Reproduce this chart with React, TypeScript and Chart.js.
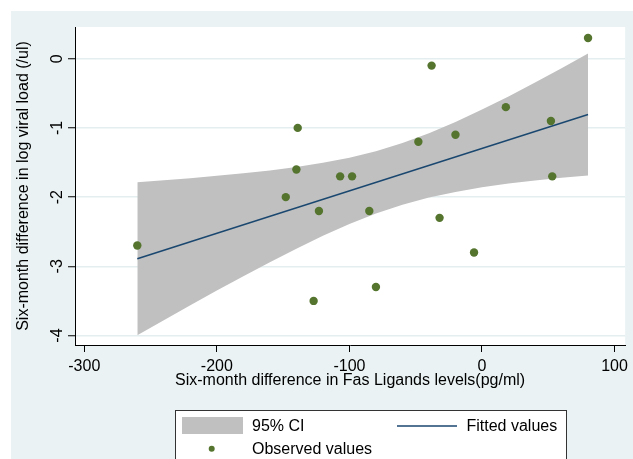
import { useEffect, useRef } from 'react';
import { Chart, registerables } from 'chart.js';

Chart.register(...registerables);

// ---- data ----
const obsX = [-260, -148, -140, -139, -127, -123, -107, -98, -85, -80, -48, -38, -32, -20, -6, 18, 52, 53, 80];
const obsY = [-2.7, -2.0, -1.6, -1.0, -3.5, -2.2, -1.7, -1.7, -2.2, -3.3, -1.2, -0.1, -2.3, -1.1, -2.8, -0.7, -0.9, -1.7, 0.3];
const fitX = [-260, 80];
const fitY = [-2.89, -0.806];
const ciX = [-260, -240, -220, -200, -180, -160, -140, -120, -100, -80, -60, -40, -20, 0, 20, 40, 60, 80];
const ciUpper = [-1.785, -1.756, -1.727, -1.693, -1.657, -1.614, -1.565, -1.505, -1.43, -1.336, -1.219, -1.077, -0.915, -0.735, -0.545, -0.343, -0.139, 0.074];
const ciLower = [-3.995, -3.778, -3.563, -3.351, -3.143, -2.94, -2.745, -2.559, -2.39, -2.238, -2.111, -2.007, -1.925, -1.857, -1.805, -1.759, -1.721, -1.686];
const xTicks = [-300, -200, -100, 0, 100];
const yTicks = [0, -1, -2, -3, -4];
const xTickLabels = ['-300', '-200', '-100', '0', '100'];
const yTickLabels = ['0', '-1', '-2', '-3', '-4'];
const seriesLabels = ['95% CI', 'Fitted values', 'Observed values'];
const xTitle = 'Six-month difference in Fas Ligands levels(pg/ml)';
const yTitle = 'Six-month difference in log viral load (/ul)';

// ---- styles ----
const FONT = '"Liberation Sans", Arial, Helvetica, sans-serif';
const BG = '#EAF2F3';
const GRID = '#E4EEF0';
const CI_COLOR = '#C0C0C0';
const LINE_COLOR = '#1A476F';
const DOT_COLOR = '#55752F';

const decorPlugin = {
  id: 'decor',
  beforeDraw(chart: any) {
    const { ctx, chartArea: a, width, height } = chart;
    ctx.save();
    ctx.fillStyle = '#ffffff';
    ctx.fillRect(0, 0, width, height);
    ctx.fillStyle = BG;
    ctx.fillRect(11, 11, width - 11, height - 11);
    ctx.fillStyle = '#ffffff';
    ctx.fillRect(a.left, a.top, a.right - a.left, a.bottom - a.top);
    ctx.restore();
  },
  afterDraw(chart: any) {
    const { ctx } = chart;
    const ys = chart.scales.y;
    ctx.save();
    // rotated y tick labels
    ctx.fillStyle = '#000';
    ctx.font = `16px ${FONT}`;
    ctx.textAlign = 'center';
    ctx.textBaseline = 'alphabetic';
    yTicks.forEach((v, i) => {
      const py = ys.getPixelForValue(v);
      ctx.save();
      ctx.translate(61.5, py);
      ctx.rotate(-Math.PI / 2);
      ctx.fillText(yTickLabels[i], 0, 0);
      ctx.restore();
    });
    // legend box
    const ds = chart.data.datasets;
    ctx.fillStyle = '#ffffff';
    ctx.fillRect(175.5, 410.5, 391, 60);
    ctx.strokeStyle = '#333333';
    ctx.lineWidth = 1;
    ctx.strokeRect(175.5, 410.5, 391, 60);
    ctx.fillStyle = ds[0].backgroundColor;
    ctx.fillRect(182, 417, 61, 17);
    ctx.strokeStyle = ds[2].borderColor;
    ctx.lineWidth = 1.5;
    ctx.beginPath();
    ctx.moveTo(397, 426);
    ctx.lineTo(457, 426);
    ctx.stroke();
    ctx.fillStyle = ds[3].backgroundColor;
    ctx.beginPath();
    ctx.arc(211.7, 448.7, 3, 0, Math.PI * 2);
    ctx.fill();
    ctx.fillStyle = '#000';
    ctx.textAlign = 'left';
    ctx.textBaseline = 'middle';
    ctx.fillText(ds[0].label, 252, 426.5);
    ctx.fillText(ds[2].label, 466.5, 426.5);
    ctx.fillText(ds[3].label, 252, 449.5);
    ctx.restore();
  },
};

export default function App() {
  const ref = useRef<HTMLCanvasElement | null>(null);

  useEffect(() => {
    if (!ref.current) return;
    const chart = new Chart(ref.current, {
      type: 'scatter',
      data: {
        datasets: [
          {
            label: seriesLabels[0],
            data: ciX.map((x, i) => ({ x, y: ciUpper[i] })),
            showLine: true,
            borderWidth: 0,
            borderColor: 'rgba(0,0,0,0)',
            backgroundColor: CI_COLOR,
            pointRadius: 0,
            fill: '+1',
            order: 3,
          },
          {
            label: '95% CI lower',
            data: ciX.map((x, i) => ({ x, y: ciLower[i] })),
            showLine: true,
            borderWidth: 0,
            borderColor: 'rgba(0,0,0,0)',
            backgroundColor: CI_COLOR,
            pointRadius: 0,
            fill: false,
            order: 4,
          },
          {
            label: seriesLabels[1],
            data: fitX.map((x, i) => ({ x, y: fitY[i] })),
            showLine: true,
            borderColor: LINE_COLOR,
            backgroundColor: LINE_COLOR,
            borderWidth: 1.5,
            pointRadius: 0,
            fill: false,
            order: 1,
          },
          {
            label: seriesLabels[2],
            data: obsX.map((x, i) => ({ x, y: obsY[i] })),
            showLine: false,
            backgroundColor: DOT_COLOR,
            borderColor: DOT_COLOR,
            borderWidth: 0,
            pointRadius: 4.2,
            order: 0,
          },
        ],
      },
      options: {
        animation: false,
        responsive: false,
        devicePixelRatio: 1,
        layout: { padding: { left: 0, top: 27, right: 5, bottom: 0 } },
        plugins: {
          legend: { display: false },
          tooltip: { enabled: false },
        },
        scales: {
          x: {
            type: 'linear',
            min: -307,
            max: 108,
            afterBuildTicks: (s: any) => {
              s.ticks = xTicks.map((v) => ({ value: v }));
            },
            afterFit: (s: any) => {
              s.height = 114;
            },
            grid: {
              display: true,
              drawOnChartArea: false,
              drawTicks: true,
              tickLength: 7,
              tickColor: '#000',
              tickWidth: 1,
            },
            border: { display: true, color: '#000', width: 1 },
            ticks: {
              color: '#000',
              font: { family: FONT, size: 16 },
              padding: 5,
              maxRotation: 0,
              minRotation: 0,
              callback: (v: any) => {
                const i = xTicks.indexOf(Number(v));
                return i >= 0 ? xTickLabels[i] : '';
              },
            },
            title: {
              display: true,
              text: xTitle,
              color: '#000',
              font: { family: FONT, size: 16 },
              padding: { top: 0, bottom: 69 },
            },
          },
          y: {
            type: 'linear',
            min: -4.137,
            max: 0.458,
            afterBuildTicks: (s: any) => {
              s.ticks = yTicks.map((v) => ({ value: v }));
            },
            afterFit: (s: any) => {
              s.width = 75;
            },
            grid: {
              display: true,
              drawOnChartArea: true,
              color: GRID,
              lineWidth: 1.5,
              drawTicks: true,
              tickLength: 7,
              tickColor: '#000',
              tickWidth: 1,
            },
            border: { display: true, color: '#000', width: 1 },
            ticks: { display: false },
            title: {
              display: true,
              text: yTitle,
              color: '#000',
              font: { family: FONT, size: 16 },
              padding: { top: 14, bottom: 0 },
            },
          },
        },
      },
      plugins: [decorPlugin],
    } as any);
    return () => chart.destroy();
  }, []);

  return (
    <div style={{ position: 'absolute', left: 0, top: 0, width: 633, height: 459 }}>
      <canvas ref={ref} width={633} height={459} style={{ display: 'block' }} />
    </div>
  );
}
